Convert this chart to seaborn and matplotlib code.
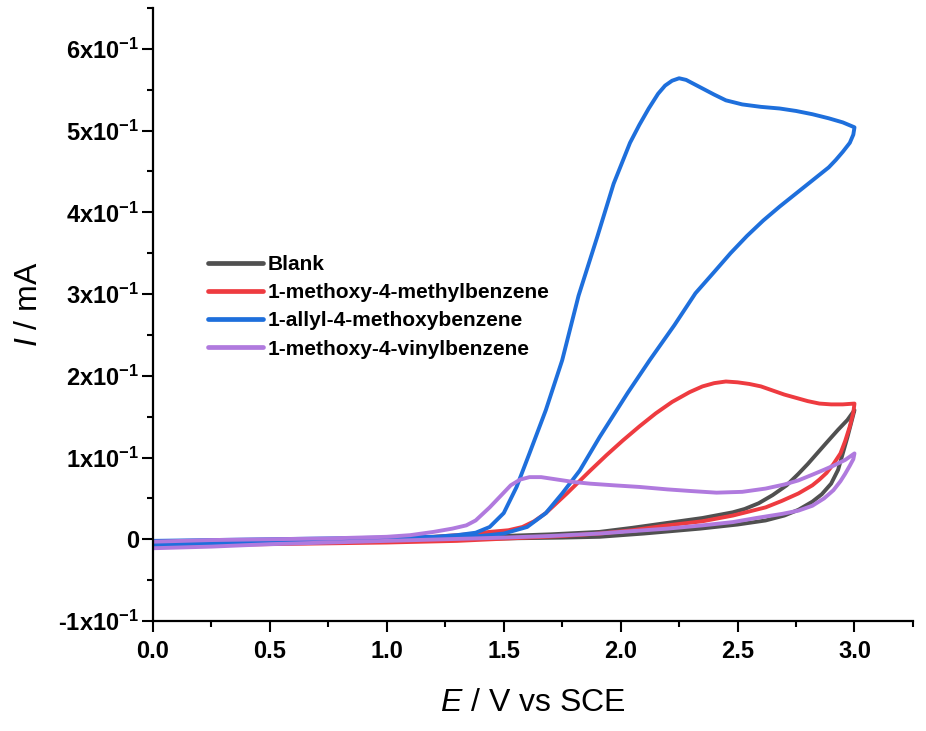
import matplotlib
matplotlib.use('Agg')
import matplotlib.pyplot as plt
import seaborn as sns
import pandas as pd
from matplotlib.ticker import MultipleLocator, FixedLocator, FixedFormatter

# cyclic voltammograms, each loop is forward scan then reverse scan
series_names = ['Blank', '1-methoxy-4-methylbenzene',
                '1-allyl-4-methoxybenzene', '1-methoxy-4-vinylbenzene']
colors = ['#505050', '#ee3b40', '#1e6fdc', '#b07ade']

e_blank = [0.0, 0.25, 0.5, 0.75, 1.0, 1.25, 1.5, 1.75, 1.91, 2.1, 2.34, 2.5, 2.62, 2.7, 2.76, 2.82, 2.86, 2.9, 2.93, 2.95, 2.97, 2.99, 3.0,
           2.985, 2.97, 2.93, 2.88, 2.84, 2.8, 2.76, 2.71, 2.65, 2.59, 2.53, 2.48, 2.35, 2.2, 2.05, 1.91, 1.7, 1.5, 1.25, 1.0, 0.75, 0.5, 0.25, 0.0]
i_blank = [-0.007, -0.005, -0.003, -0.002, -0.001, 0.0, 0.001, 0.002, 0.003, 0.007, 0.013, 0.018, 0.023, 0.029, 0.036, 0.046, 0.055, 0.068, 0.085, 0.105, 0.125, 0.147, 0.158,
           0.152, 0.146, 0.134, 0.118, 0.105, 0.092, 0.08, 0.066, 0.054, 0.044, 0.037, 0.033, 0.026, 0.02, 0.014, 0.009, 0.006, 0.004, 0.002, 0.001, -0.001, -0.002, -0.004, -0.005]

e_methyl = [0.0, 0.25, 0.5, 0.75, 1.0, 1.2, 1.35, 1.44, 1.52, 1.58, 1.63, 1.68, 1.77, 1.87, 1.94, 2.01, 2.08, 2.15, 2.22, 2.295, 2.35, 2.4, 2.45, 2.5, 2.55, 2.6, 2.65, 2.7, 2.75, 2.8, 2.85, 2.9, 2.95, 3.0,
            2.995, 2.98, 2.96, 2.94, 2.91, 2.88, 2.85, 2.82, 2.76, 2.69, 2.62, 2.55, 2.48, 2.35, 2.2, 2.05, 1.91, 1.75, 1.6, 1.45, 1.3, 1.0, 0.75, 0.5, 0.25, 0.0]
i_methyl = [-0.004, -0.003, -0.002, 0.0, 0.001, 0.003, 0.006, 0.009, 0.011, 0.015, 0.022, 0.032, 0.056, 0.084, 0.103, 0.121, 0.138, 0.154, 0.168, 0.18, 0.187, 0.191, 0.193, 0.192, 0.19, 0.187, 0.182, 0.177, 0.173, 0.169, 0.166, 0.165, 0.165, 0.166,
            0.155, 0.138, 0.12, 0.105, 0.092, 0.081, 0.073, 0.066, 0.056, 0.047, 0.039, 0.034, 0.029, 0.022, 0.017, 0.011, 0.007, 0.004, 0.002, 0.0, -0.002, -0.004, -0.005, -0.006, -0.007, -0.009]

e_allyl = [0.0, 0.25, 0.5, 0.75, 1.0, 1.2, 1.3, 1.38, 1.44, 1.5, 1.555, 1.61, 1.68, 1.75, 1.82, 1.9, 1.97, 2.04, 2.08, 2.12, 2.16, 2.19, 2.22, 2.25, 2.28, 2.32, 2.36, 2.4, 2.45, 2.52, 2.6, 2.68, 2.75, 2.82, 2.89, 2.95, 3.0,
           2.995, 2.98, 2.95, 2.92, 2.89, 2.82, 2.75, 2.68, 2.61, 2.54, 2.47, 2.4, 2.32, 2.23, 2.124, 2.03, 1.91, 1.825, 1.75, 1.68, 1.6, 1.5, 1.4, 1.2, 1.0, 0.75, 0.5, 0.25, 0.0]
i_allyl = [-0.002, -0.001, 0.0, 0.001, 0.002, 0.003, 0.005, 0.008, 0.015, 0.032, 0.064, 0.105, 0.158, 0.219, 0.298, 0.37, 0.435, 0.485, 0.507, 0.527, 0.545, 0.555, 0.561, 0.564, 0.562, 0.556, 0.55, 0.544, 0.537, 0.532, 0.529, 0.527, 0.524, 0.52, 0.515, 0.51, 0.504,
           0.495, 0.485, 0.474, 0.464, 0.455, 0.439, 0.423, 0.407, 0.39, 0.371, 0.35, 0.327, 0.301, 0.262, 0.219, 0.179, 0.125, 0.084, 0.056, 0.032, 0.015, 0.007, 0.004, 0.001, -0.001, -0.002, -0.004, -0.005, -0.007]

e_vinyl = [0.0, 0.25, 0.5, 0.75, 1.0, 1.1, 1.2, 1.28, 1.34, 1.38, 1.41, 1.44, 1.48, 1.53, 1.57, 1.61, 1.66, 1.73, 1.8, 1.87, 1.97, 2.08, 2.2, 2.3, 2.41, 2.52, 2.62, 2.7, 2.76, 2.82, 2.87, 2.91, 2.96, 3.0,
           2.995, 2.98, 2.96, 2.94, 2.91, 2.87, 2.82, 2.76, 2.69, 2.58, 2.48, 2.35, 2.2, 2.05, 1.91, 1.7, 1.5, 1.25, 1.0, 0.75, 0.5, 0.25, 0.0]
i_vinyl = [-0.003, -0.001, 0.0, 0.001, 0.003, 0.005, 0.009, 0.013, 0.017, 0.023, 0.031, 0.039, 0.051, 0.066, 0.073, 0.076, 0.076, 0.073, 0.07, 0.068, 0.066, 0.064, 0.061, 0.059, 0.057, 0.058, 0.062, 0.067, 0.072, 0.079, 0.085, 0.09, 0.097, 0.105,
           0.098, 0.09, 0.08, 0.071, 0.06, 0.05, 0.041, 0.035, 0.031, 0.026, 0.021, 0.017, 0.013, 0.01, 0.007, 0.004, 0.002, 0.0, -0.002, -0.004, -0.006, -0.009, -0.011]

y_ticks = [-0.1, 0.0, 0.1, 0.2, 0.3, 0.4, 0.5, 0.6]
y_tick_labels = ['-1x10$^{-1}$', '0', '1x10$^{-1}$', '2x10$^{-1}$', '3x10$^{-1}$',
                 '4x10$^{-1}$', '5x10$^{-1}$', '6x10$^{-1}$']

frames = []
for name, e, i in zip(series_names,
                      [e_blank, e_methyl, e_allyl, e_vinyl],
                      [i_blank, i_methyl, i_allyl, i_vinyl]):
    d = pd.DataFrame({'E': e, 'I': i})
    d['series'] = name
    frames.append(d)
df = pd.concat(frames, ignore_index=True)

sns.set_style('ticks')
plt.rcParams['font.family'] = ['Liberation Sans', 'DejaVu Sans']
plt.rcParams['mathtext.fontset'] = 'custom'
plt.rcParams['mathtext.rm'] = 'Liberation Sans'
plt.rcParams['mathtext.it'] = 'Liberation Sans:italic'
plt.rcParams['mathtext.bf'] = 'Liberation Sans:bold'
plt.rcParams['mathtext.default'] = 'regular'
plt.rcParams['text.color'] = 'black'
plt.rcParams['axes.labelcolor'] = 'black'

fig = plt.figure(figsize=(9.26, 7.31), dpi=100)
ax = fig.add_axes([0.1652, 0.1505, 0.8207, 0.8386])

sns.lineplot(data=df, x='E', y='I', hue='series', hue_order=series_names,
             palette=colors, sort=False, estimator=None, units='series',
             linewidth=2.8, ax=ax)

ax.set_xlim(0, 3.25)
ax.set_ylim(-0.1, 0.65)
ax.xaxis.set_major_locator(MultipleLocator(0.5))
ax.xaxis.set_minor_locator(MultipleLocator(0.25))
ax.yaxis.set_major_locator(FixedLocator(y_ticks))
ax.yaxis.set_major_formatter(FixedFormatter(y_tick_labels))
ax.yaxis.set_minor_locator(MultipleLocator(0.05))
ax.xaxis.set_major_formatter(plt.FuncFormatter(lambda v, p: f'{v:.1f}'))

for s in ['top', 'right']:
    ax.spines[s].set_visible(False)
for s in ['left', 'bottom']:
    ax.spines[s].set_linewidth(1.6)
    ax.spines[s].set_color('black')

ax.tick_params(which='major', direction='out', length=8, width=1.5, colors='black', labelsize=17, pad=6)
ax.tick_params(which='minor', direction='out', length=4.5, width=1.5, colors='black')
ax.tick_params(axis='y', which='major', pad=2)
for lab in ax.get_xticklabels() + ax.get_yticklabels():
    lab.set_fontweight('bold')

ax.set_xlabel('$\\mathit{E}$ / V vs SCE', fontsize=23, labelpad=18, color='black')
ax.set_ylabel('$\\mathit{I}$ / mA', fontsize=23, color='black')
ax.yaxis.set_label_coords(-0.143, 0.517)

handles, labels = ax.get_legend_handles_labels()
leg = ax.legend(handles, labels, loc='upper left', bbox_to_anchor=(0.073, 0.597),
                frameon=False, borderaxespad=0, borderpad=0,
                handlelength=2.6, handletextpad=0.24, labelspacing=0.44,
                prop={'weight': 'bold', 'size': 15})
for line in leg.get_lines():
    line.set_linewidth(3.4)
for txt in leg.get_texts():
    txt.set_color('black')

fig.savefig('out.png', dpi=100)
